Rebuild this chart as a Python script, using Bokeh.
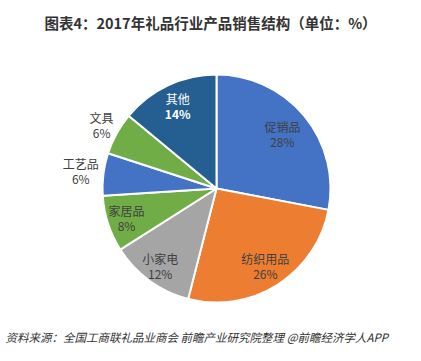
import math
from bokeh.plotting import figure
from bokeh.models import Range1d, ColumnDataSource
from bokeh.core.properties import value
from bokeh.embed import file_html
from bokeh.resources import INLINE

categories = ["促销品", "纺织用品", "小家电", "家居品", "工艺品", "文具", "其他"]
shares = [28, 26, 12, 8, 6, 6, 14]
colors = ["#4472C4", "#ED7D31", "#A5A5A5", "#70AD47", "#4472C4", "#70AD47", "#255E91"]
label_r = [0.75, 0.80, 0.84, 0.83, 1.20, 1.15, 0.80]
label_colors = ["#404040", "#404040", "#404040", "#404040", "#404040", "#404040", "#FFFFFF"]
pct_bold = ["normal", "normal", "normal", "normal", "normal", "normal", "bold"]

title = "图表4：2017年礼品行业产品销售结构（单位：%）"
source_note = "资料来源：全国工商联礼品业商会 前瞻产业研究院整理 @前瞻经济学人APP"

W, H = 405, 345
cx, cy, R = 216, 361 - 188, 114

p = figure(width=W, height=H, output_backend="svg", toolbar_location=None,
           x_range=Range1d(0, W), y_range=Range1d(361 - H, 361), min_border=0)
p.axis.visible = False
p.grid.visible = False
p.outline_line_color = None
p.background_fill_color = "white"

total = sum(shares)
starts, ends, lx, ly = [], [], [], []
cum = 0
for s, f in zip(shares, label_r):
    a0 = math.pi / 2 - 2 * math.pi * cum / total
    a1 = math.pi / 2 - 2 * math.pi * (cum + s) / total
    mid = math.pi / 2 - 2 * math.pi * (cum + s / 2) / total
    starts.append(a0)
    ends.append(a1)
    lx.append(cx + f * R * math.cos(mid))
    ly.append(cy + f * R * math.sin(mid))
    cum += s

src = ColumnDataSource(dict(start=starts, end=ends, color=colors))
p.wedge(x=cx, y=cy, radius=R, start_angle="start", end_angle="end",
        direction="clock", fill_color="color", line_color="white", line_width=2,
        source=src)

font = value("Noto Sans CJK SC")
lsrc = ColumnDataSource(dict(
    x=lx, y1=[y + 7.5 for y in ly], y2=[y - 7.5 for y in ly],
    name=categories, pct=[f"{s}%" for s in shares], tc=label_colors, fs=pct_bold))
p.text(x="x", y="y1", text="name", source=lsrc, text_align="center",
       text_baseline="middle", text_font=font, text_font_size="12px",
       text_color="tc")
p.text(x="x", y="y2", text="pct", source=lsrc, text_align="center",
       text_baseline="middle", text_font=font, text_font_size="12px",
       text_color="tc", text_font_style="fs")

p.text(x=[210], y=[361 - 22], text=[title], text_align="center",
       text_baseline="middle", text_font=font, text_font_size="14.5px",
       text_font_style="bold", text_color="#333333")
p.text(x=[5], y=[361 - 336], text=[source_note], text_align="left",
       text_baseline="middle", text_font=font, text_font_size="11.5px",
       text_font_style="italic", text_color="#333333")

open("out.html", "w").write(file_html(p, INLINE))
